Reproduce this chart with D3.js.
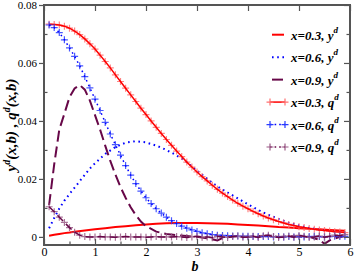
<!DOCTYPE html>
<html><head><meta charset="utf-8">
<script src="https://cdn.jsdelivr.net/npm/d3@7"></script>
<style>body{margin:0;background:#fff}svg{display:block}</style>
</head><body><svg id="c" width="354" height="273"></svg>
<script>
// ---- data ----
const bQ = [0.1,0.2,0.3,0.4,0.5,0.6,0.7,0.8,0.9,1.0,1.1,1.2,1.3,1.4,1.5,1.6,1.7,1.8,1.9,2.0,
  2.1,2.2,2.3,2.4,2.5,2.6,2.7,2.8,2.9,3.0,3.1,3.2,3.3,3.4,3.5,3.6,3.7,3.8,3.9,4.0,
  4.1,4.2,4.3,4.4,4.5,4.6,4.7,4.8,4.9,5.0,5.1,5.2,5.3,5.4,5.5,5.6,5.7,5.8,5.9];
const q03 = [0.0734,0.0733,0.0731,0.0727,0.0720,0.0710,0.0698,0.0683,0.0666,0.0648,
  0.0627,0.0605,0.0583,0.0559,0.0536,0.0513,0.0490,0.0467,0.0444,0.0422,
  0.0400,0.0378,0.0357,0.0336,0.0316,0.0296,0.0277,0.0258,0.0241,0.0224,
  0.0208,0.0193,0.0178,0.0164,0.0151,0.0139,0.0127,0.0116,0.0106,0.0097,
  0.0088,0.0080,0.0072,0.0065,0.0059,0.0053,0.0048,0.0043,0.0039,0.0035,
  0.0032,0.0029,0.0026,0.0024,0.0022,0.0020,0.0018,0.0017,0.0015];
const q06 = [0.0731,0.0722,0.0705,0.0680,0.0652,0.0623,0.0590,0.0553,0.0514,0.0475,
  0.0436,0.0395,0.0355,0.0318,0.0282,0.0246,0.0213,0.0184,0.0158,0.0135,
  0.0115,0.0097,0.0082,0.0068,0.0056,0.0046,0.0037,0.0030,0.0024,0.0019,
  0.0014,0.0011,0.0008,0.0006,0.0005,0.0004,0.0003,0.0003,0.0002,0.0002,
  0.0001,0.0001,0.0001,0.0001,0.0000,0.0001,0.0000,0.0001,0.0000,0.0001,
  0.0000,0.0001,0.0002,0.0001,0.0000,0.0001,0.0002,0.0001,0.0002];
const q09 = [0.0104,0.0087,0.0068,0.0050,0.0032,0.0016,0.0006,0.0001,0.0000,0.0000,
  0.0001,0.0000,0.0000,-0.0001,0.0000,0.0001,0.0000,0.0000,0.0000,-0.0001,
  0.0000,0.0001,0.0000,0.0000,0.0000,0.0001,0.0000,-0.0002,0.0000,0.0002,
  -0.0001,0.0000,-0.0003,0.0002,0.0000,-0.0002,0.0001,0.0003,-0.0001,0.0000,
  0.0002,-0.0002,0.0004,0.0006,0.0001,-0.0002,0.0000,0.0003,-0.0001,0.0005,
  0.0002,-0.0002,0.0000,0.0003,-0.0001,0.0002,0.0006,0.0004,0.0008];
const bY03 = [0.1,0.2,0.3,0.4,0.5,0.6,0.8,1.0,1.2,1.4,1.6,1.8,2.0,2.2,2.4,2.6,2.8,3.0,3.2,3.4,
  3.6,3.8,4.0,4.2,4.4,4.6,4.8,5.0,5.2,5.4,5.6,5.8,5.9];
const y03 = [0.0004,0.0007,0.0010,0.0013,0.0015,0.0018,0.0022,0.0026,0.0030,0.0034,
  0.0037,0.0040,0.0043,0.0045,0.0047,0.0048,0.0048,0.0048,0.0047,0.0046,
  0.0045,0.0043,0.0041,0.0039,0.0037,0.0034,0.0032,0.0030,0.0028,0.0026,0.0024,0.0022,0.0021];
const bY06 = [0.1,0.2,0.3,0.4,0.5,0.6,0.7,0.8,0.9,1.0,1.2,1.4,1.6,1.8,2.0,2.2,2.4,2.6,2.8,3.0,
  3.2,3.4,3.6,3.8,4.0,4.2,4.4,4.6,4.8,5.0,5.2,5.4,5.6,5.8,5.9];
const y06 = [0.0030,0.0065,0.0098,0.0125,0.0148,0.0170,0.0192,0.0214,0.0236,0.0254,
  0.0286,0.0310,0.0325,0.0330,0.0326,0.0315,0.0300,0.0281,0.0258,0.0228,
  0.0200,0.0174,0.0153,0.0133,0.0112,0.0093,0.0076,0.0062,0.0049,0.0039,
  0.0031,0.0025,0.0020,0.0016,0.0014];
const bY09 = [0.1,0.2,0.3,0.4,0.5,0.6,0.7,0.8,0.9,1.0,1.1,1.2,1.3,1.4,1.5,1.6,1.7,1.8,1.9,2.0,
  2.2,2.4,2.6,2.8,3.0,3.2,3.4,3.5,3.6,3.8,4.0,4.2,4.4,4.6,4.8,5.0,5.2,5.4,5.5,5.6,5.8,5.9];
const y09 = [0.0110,0.0250,0.0370,0.0425,0.0482,0.0512,0.0524,0.0508,0.0470,0.0420,
  0.0370,0.0315,0.0262,0.0215,0.0172,0.0135,0.0102,0.0075,0.0053,0.0037,
  0.0018,0.0010,0.0006,0.0003,0.0000,-0.0005,-0.0012,-0.0004,0.0000,0.0002,
  0.0000,0.0003,0.0004,0.0000,0.0002,0.0001,0.0000,-0.0010,-0.0024,-0.0012,0.0000,0.0002];
const legendLabels = ["x=0.3, y","x=0.6, y","x=0.9, y","x=0.3, q","x=0.6, q","x=0.9, q"];
const xTicks = [0,1,2,3,4,5,6];
const xMinor = [0.5,1.5,2.5,3.5,4.5,5.5];
const yTicks = [0,0.02,0.04,0.06,0.08];
const yTickLabels = ["0","0.02","0.04","0.06","0.08"];
const yMinor = [0.01,0.03,0.05,0.07];

// ---- styles ----
const RED="#ff0000", BLUE="#0000ff", MAROON="#670748";
const series = [
  {b:bY03, v:y03, color:RED, dash:null, w:2, marker:false},
  {b:bY06, v:y06, color:BLUE, dash:"1.6,3.6", w:2, marker:false},
  {b:bY09, v:y09, color:MAROON, dash:"11,5", w:2, marker:false},
  {b:bQ, v:q03, color:RED, dash:null, w:1.5, marker:true, mcolor:"#ff7070"},
  {b:bQ, v:q06, color:BLUE, dash:"1.6,3.6", w:1.5, marker:true, mcolor:"#2a3cff"},
  {b:bQ, v:q09, color:MAROON, dash:"8,4", w:1.5, marker:true, mcolor:"#9a5a86"}
];

const svg = d3.select("#c");
svg.append("rect").attr("width",354).attr("height",273).attr("fill","#fff");
const L=44, R=350, T=5, B=245;
const x = d3.scaleLinear().domain([0,6]).range([L,R]);
const y = d3.scaleLinear().domain([-0.0028,0.08]).range([B,T]);

svg.append("clipPath").attr("id","clip").append("rect")
  .attr("x",L).attr("y",T).attr("width",R-L).attr("height",B-T);

const plot = svg.append("g").attr("clip-path","url(#clip)");
const line = d3.line().x(d=>x(d[0])).y(d=>y(d[1]));
series.forEach(s=>{
  const pts = s.b.map((b,i)=>[b,s.v[i]]);
  if(s.marker){
    const g = plot.append("g").attr("stroke",s.mcolor).attr("stroke-width",1.2)
      .attr("opacity",0.85);
    pts.forEach(p=>{
      const cx=x(p[0]), cy=y(p[1]);
      g.append("path").attr("d",`M${cx-3.5},${cy}H${cx+3.5}M${cx},${cy-3.5}V${cy+3.5}`);
    });
  }
  plot.append("path").datum(pts).attr("d",line).attr("fill","none")
    .attr("stroke",s.color).attr("stroke-width",s.w)
    .attr("stroke-dasharray",s.dash);
});

// ---- axes ----
const font = "Liberation Serif, Times New Roman, serif";
const axColor = "#555";
function styleAxis(g){
  g.select(".domain").remove();
  g.selectAll("line").attr("stroke",axColor).attr("stroke-width",1.2);
  g.selectAll("text").attr("font-family",font).attr("fill","#000");
}
svg.append("g").attr("transform",`translate(0,${B})`)
  .call(d3.axisBottom(x).tickValues(xTicks).tickSize(-6).tickPadding(2).tickFormat(d3.format("d")))
  .call(styleAxis).call(g=>g.selectAll("text").attr("font-size",12));
svg.append("g").attr("transform",`translate(0,${B})`)
  .call(d3.axisBottom(x).tickValues(xMinor).tickSize(-3.5).tickFormat(""))
  .call(styleAxis);
svg.append("g").attr("transform",`translate(0,${T})`)
  .call(d3.axisTop(x).tickValues(xTicks).tickSize(-6).tickFormat(""))
  .call(styleAxis);
svg.append("g").attr("transform",`translate(${L},0)`)
  .call(d3.axisLeft(y).tickValues(yTicks).tickSize(5).tickPadding(2)
    .tickFormat((d,i)=>yTickLabels[i]))
  .call(styleAxis).call(g=>g.selectAll("text").attr("font-size",11));
svg.append("g").attr("transform",`translate(${L},0)`)
  .call(d3.axisLeft(y).tickValues(yMinor).tickSize(-3.5).tickFormat(""))
  .call(styleAxis);
svg.append("g").attr("transform",`translate(${R},0)`)
  .call(d3.axisRight(y).tickValues(yTicks).tickSize(-6).tickFormat(""))
  .call(styleAxis);
svg.append("g").attr("transform",`translate(${R},0)`)
  .call(d3.axisRight(y).tickValues(yMinor).tickSize(-3.5).tickFormat(""))
  .call(styleAxis);
svg.append("rect").attr("x",L).attr("y",T).attr("width",R-L).attr("height",B-T)
  .attr("fill","none").attr("stroke",axColor).attr("stroke-width",2);

// ---- titles ----
svg.append("text").attr("x",195).attr("y",271).attr("text-anchor","middle")
  .attr("font-family",font).attr("font-weight","bold").attr("font-style","italic")
  .attr("font-size",14).text("b");
const yt = svg.append("text").attr("transform","translate(15.5,125) rotate(-90)")
  .attr("text-anchor","middle").attr("font-family",font).attr("font-weight","bold")
  .attr("font-style","italic").attr("font-size",15);
yt.append("tspan").text("y");
yt.append("tspan").attr("dy",-6).attr("font-size",10).text("d");
yt.append("tspan").attr("dy",6).text("(x,b) , q");
yt.append("tspan").attr("dy",-6).attr("font-size",10).text("d");
yt.append("tspan").attr("dy",6).text("(x,b)");

// ---- legend ----
const lg = svg.append("g");
const rowY = d3.scaleLinear().domain([0,5]).range([34.7,147]);
series.forEach((s,i)=>{
  const cy = rowY(i);
  const x1 = s.marker ? 270 : 272, x2 = s.marker ? 285 : 284;
  lg.append("line").attr("x1",x1).attr("x2",x2).attr("y1",cy).attr("y2",cy)
    .attr("stroke",s.color).attr("stroke-width",s.w).attr("stroke-dasharray",s.marker&&s.dash?"1.6,3":s.dash);
  if(s.marker){
    [x1,x2].forEach(px=>{
      lg.append("path").attr("d",`M${px-3.5},${cy}H${px+3.5}M${px},${cy-3.5}V${cy+3.5}`)
        .attr("stroke",s.mcolor).attr("stroke-width",1.2);
    });
  }
  const t = lg.append("text").attr("x",291).attr("y",cy+5).attr("font-family",font)
    .attr("font-weight","bold").attr("font-style","italic").attr("font-size",13);
  t.append("tspan").text(legendLabels[i]);
  t.append("tspan").attr("dy",-7).attr("font-size",9).text("d");
});
</script></body></html>
